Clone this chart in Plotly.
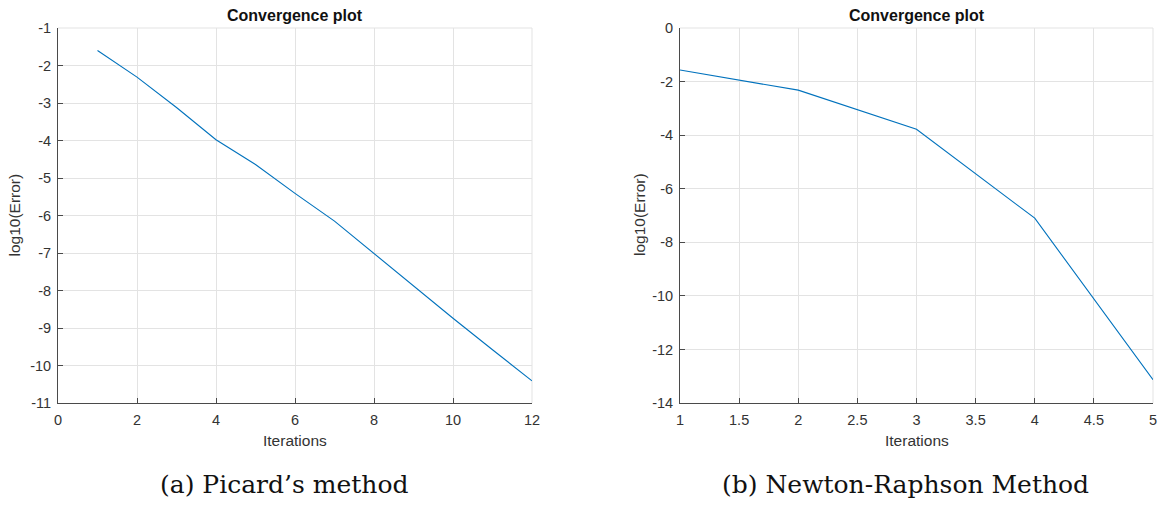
import plotly.graph_objects as go

# Data
picard_iter = [1, 2, 3, 4, 5, 6, 7, 8, 9, 10, 11, 12]
picard_err = [-1.60, -2.31, -3.12, -3.98, -4.64, -5.41, -6.15, -7.02, -7.88, -8.74, -9.58, -10.41]
newton_iter = [1, 2, 3, 4, 5]
newton_err = [-1.57, -2.32, -3.78, -7.10, -13.13]

# Tick values / labels (hyphen-minus as in the MATLAB figure)
picard_xticks = [0, 2, 4, 6, 8, 10, 12]
picard_yticks = [-11, -10, -9, -8, -7, -6, -5, -4, -3, -2, -1]
newton_xticks = [1, 1.5, 2, 2.5, 3, 3.5, 4, 4.5, 5]
newton_yticks = [-14, -12, -10, -8, -6, -4, -2, 0]

titles = ["Convergence plot", "Convergence plot"]
xlabel = "Iterations"
ylabel = "log10(Error)"
captions = ["(a) Picard\u2019s method", "(b) Newton-Raphson Method"]


def fmt(v):
    return ("%g" % v).replace("\u2212", "-")


W, H = 1163, 506
line_color = "#0072BD"
grid_color = "#e3e3e3"
axis_color = "#4a4a4a"
sans = "Liberation Sans, Arial"
tick_font = dict(family=sans, size=14.5, color="#333333")


def px_x(p):
    return p / W


def px_y(p):
    return 1 - p / H


fig = go.Figure()
fig.add_trace(go.Scatter(x=picard_iter, y=picard_err, mode="lines",
                         line=dict(color=line_color, width=1.1),
                         xaxis="x", yaxis="y", showlegend=False))
fig.add_trace(go.Scatter(x=newton_iter, y=newton_err, mode="lines",
                         line=dict(color=line_color, width=1.1),
                         xaxis="x2", yaxis="y2", showlegend=False))

ax_common = dict(showgrid=True, gridcolor=grid_color, gridwidth=1,
                 showline=True, linecolor=axis_color, linewidth=1,
                 ticks="inside", ticklen=5, tickcolor=axis_color, tickwidth=1,
                 tickfont=tick_font, zeroline=False, mirror=False,
                 fixedrange=True, tickmode="array", automargin=False)

dom_y = [px_y(403), px_y(28)]
fig.update_layout(
    template="none",
    width=W, height=H,
    margin=dict(l=0, r=0, t=0, b=0, pad=0, autoexpand=False),
    paper_bgcolor="white", plot_bgcolor="white",
    xaxis=dict(domain=[px_x(58), px_x(532)], range=[0, 12],
               tickvals=picard_xticks, ticktext=[fmt(v) for v in picard_xticks],
               anchor="y", ticklabelstandoff=4, **ax_common),
    yaxis=dict(domain=dom_y, range=[-11, -1],
               tickvals=picard_yticks, ticktext=[fmt(v) for v in picard_yticks],
               anchor="x", ticklabelstandoff=3, **ax_common),
    xaxis2=dict(domain=[px_x(680), px_x(1153)], range=[1, 5],
                tickvals=newton_xticks, ticktext=[fmt(v) for v in newton_xticks],
                anchor="y2", ticklabelstandoff=4, **ax_common),
    yaxis2=dict(domain=dom_y, range=[-14, 0],
                tickvals=newton_yticks, ticktext=[fmt(v) for v in newton_yticks],
                anchor="x2", ticklabelstandoff=3, **ax_common),
)

# top and right box edges drawn light like the MATLAB grid
for xr, yr in (("x", "y"), ("x2", "y2")):
    fig.add_shape(type="line", xref=f"{xr} domain", yref=f"{yr} domain",
                  x0=0, x1=1, y0=1, y1=1, line=dict(color=grid_color, width=1), layer="below")
    fig.add_shape(type="line", xref=f"{xr} domain", yref=f"{yr} domain",
                  x0=1, x1=1, y0=0, y1=1, line=dict(color=grid_color, width=1), layer="below")

annots = []
centers = [(58 + 532) / 2, (680 + 1153) / 2]
ylab_x = [13.5, 639]
cap_x = [284, 905]
for i in range(2):
    annots.append(dict(text=f"<b>{titles[i]}</b>", x=px_x(centers[i]), y=px_y(15.5),
                       xref="paper", yref="paper", showarrow=False,
                       xanchor="center", yanchor="middle",
                       font=dict(family=sans, size=16, color="#111111")))
    annots.append(dict(text=xlabel, x=px_x(centers[i]), y=px_y(440),
                       xref="paper", yref="paper", showarrow=False,
                       xanchor="center", yanchor="middle",
                       font=dict(family=sans, size=15.5, color="#333333")))
    annots.append(dict(text=ylabel, x=px_x(ylab_x[i]), y=px_y(215), textangle=-90,
                       xref="paper", yref="paper", showarrow=False,
                       xanchor="center", yanchor="middle",
                       font=dict(family=sans, size=15.5, color="#333333")))
    annots.append(dict(text=captions[i], x=px_x(cap_x[i]), y=px_y(484),
                       xref="paper", yref="paper", showarrow=False,
                       xanchor="center", yanchor="middle",
                       font=dict(family="DejaVu Serif, Liberation Serif, serif", size=25,
                                 color="#111111")))
fig.update_layout(annotations=annots)

fig.write_html("out.html")
